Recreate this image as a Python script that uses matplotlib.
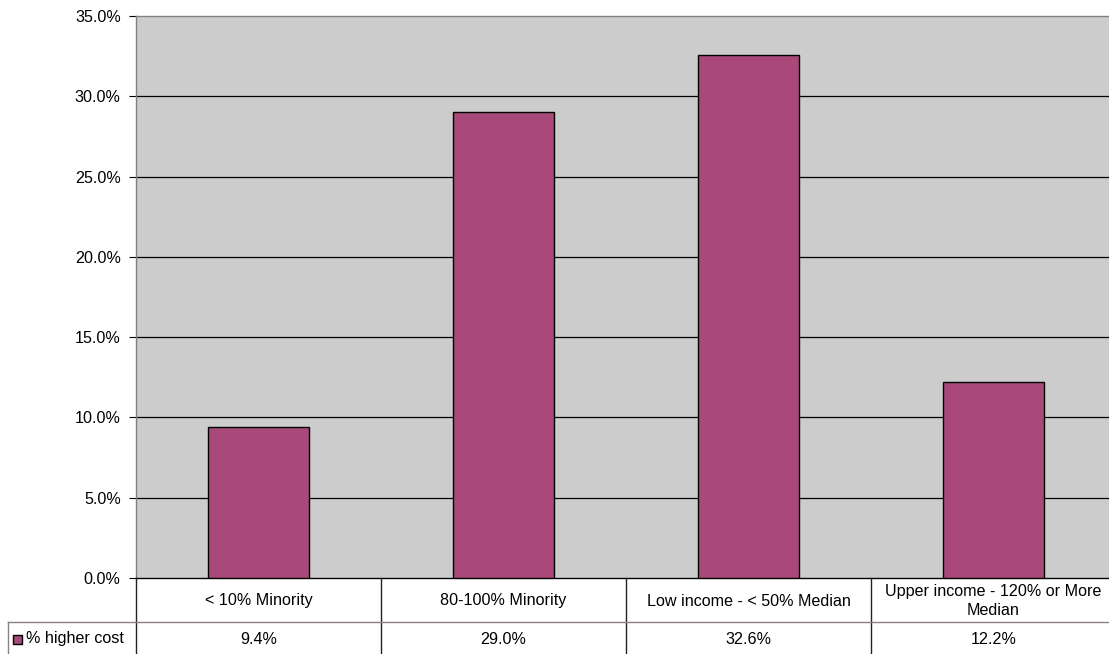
import matplotlib
matplotlib.use("Agg")
import matplotlib.pyplot as plt
from matplotlib.lines import Line2D
from matplotlib.patches import Rectangle

categories = ["< 10% Minority", "80-100% Minority", "Low income - < 50% Median",
              "Upper income - 120% or More\nMedian"]
higher_cost = [9.4, 29.0, 32.6, 12.2]
value_labels = ["9.4%", "29.0%", "32.6%", "12.2%"]
series_name = "% higher cost"
y_ticks = [0, 5, 10, 15, 20, 25, 30, 35]

plt.rcParams["font.family"] = ["Liberation Sans", "DejaVu Sans"]
FS = 11.6

W, H = 1109, 654
fig = plt.figure(figsize=(W / 100, H / 100), dpi=100)
fig.patch.set_facecolor("white")

bar_color = "#A8497A"
grid_color = "#000000"

# plot area in pixel layout
px_left, px_right, px_top, px_bottom = 136, 1116, 16, 578
ax = fig.add_axes([px_left / W, (H - px_bottom) / H,
                   (px_right - px_left) / W, (px_bottom - px_top) / H])
ax.set_facecolor("#CCCCCC")
ax.set_xlim(-0.5, len(categories) - 0.5)
ax.set_ylim(0, 35)

x = list(range(len(categories)))
ax.bar(x, higher_cost, width=0.41, color=bar_color, edgecolor="black",
       linewidth=1.0, zorder=3)

ax.set_yticks(y_ticks)
ax.set_yticklabels([f"{v:.1f}%" for v in y_ticks], fontsize=FS)
for v in y_ticks[1:-1]:
    ax.axhline(v, color=grid_color, linewidth=0.9, zorder=1)
ax.tick_params(axis="y", length=5, width=0.8, color="black", pad=6)
ax.set_xticks([])

for side in ("left", "top", "right"):
    ax.spines[side].set_color("#808080")
    ax.spines[side].set_linewidth(1.0)
ax.spines["bottom"].set_color("black")
ax.spines["bottom"].set_linewidth(1.0)

# data table under the plot area
row_split = 622
tab = fig.add_axes([px_left / W, 0, (px_right - px_left) / W, (H - px_bottom) / H])
tab.set_xlim(-0.5, len(categories) - 0.5)
tab.set_ylim(H, px_bottom)  # pixel rows, top to bottom
tab.axis("off")

units_per_px = len(categories) / (px_right - px_left)
legend_left = -0.5 - (px_left - 8) * units_per_px

vcol = "#222222"
hcol = "#8C7F85"
for b in [i - 0.5 for i in range(len(categories))]:
    tab.add_line(Line2D([b, b], [px_bottom, H], color=vcol, linewidth=1.0,
                        clip_on=False))
tab.add_line(Line2D([legend_left, len(categories)], [row_split, row_split],
                    color=hcol, linewidth=1.0, clip_on=False))
tab.add_line(Line2D([legend_left, legend_left], [row_split, H], color=hcol,
                    linewidth=1.0, clip_on=False))

row1_mid = (px_bottom + row_split) / 2 + 1
row2_mid = (row_split + H) / 2 + 1
for i, (cat, lab) in enumerate(zip(categories, value_labels)):
    tab.text(i, row1_mid, cat, ha="center", va="center", fontsize=FS,
             linespacing=1.35, clip_on=False)
    tab.text(i, row2_mid, lab, ha="center", va="center", fontsize=FS,
             clip_on=False)

# legend key in the table's left column
key_w = 9 * units_per_px
key_x = legend_left + 5 * units_per_px
tab.add_patch(Rectangle((key_x, row2_mid - 4.5), key_w, 9, facecolor=bar_color,
                        edgecolor="black", linewidth=1.0, clip_on=False))
tab.text(key_x + key_w + 4 * units_per_px, row2_mid, series_name, ha="left",
         va="center", fontsize=FS, clip_on=False)

fig.savefig("out.png", dpi=100, facecolor="white")
